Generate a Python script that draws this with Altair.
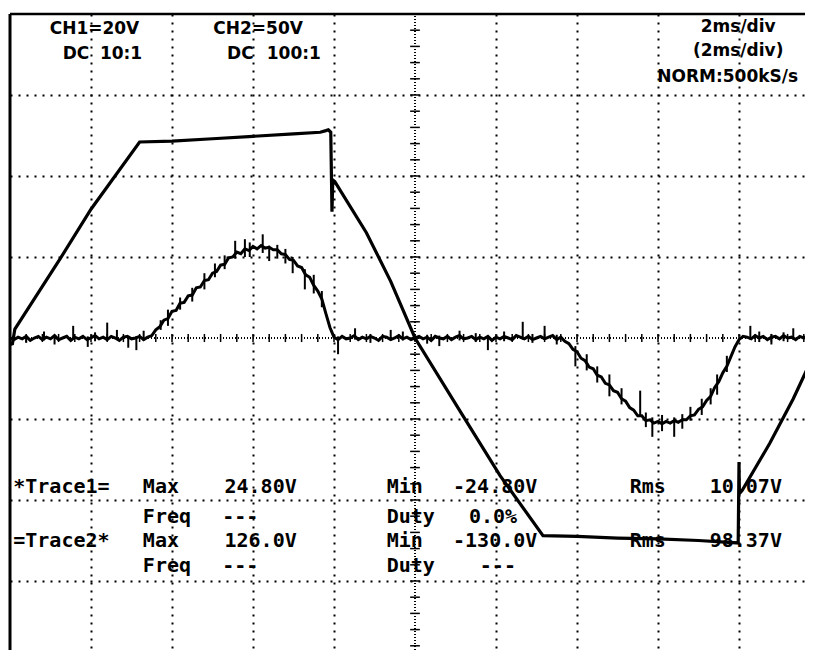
import altair as alt
import pandas as pd

# ---------------- data (screen divisions: x 0..10, y -4..4) ----------------
# Trace 2 (CH2, 50 V/div): trapezoid
T2_X = [0.00, 0.03, 0.06, 0.62, 1.00, 1.60, 2.00, 2.50, 3.00, 3.50, 3.83, 3.90, 3.93,
        3.96, 3.975, 3.985, 4.01, 4.40, 4.70, 5.00, 5.56, 6.05, 6.58, 7.00, 7.50,
        8.00, 8.50, 8.99, 9.00, 9.005, 9.04, 9.38, 9.67, 9.88, 10.00]
T2_Y = [-0.08, -0.07, 0.11, 0.98, 1.59, 2.42, 2.43, 2.46, 2.49, 2.52, 2.54, 2.56, 2.57,
        2.54, 1.56, 1.95, 1.93, 1.30, 0.70, 0.00, -0.91, -1.70, -2.44, -2.45, -2.47,
        -2.48, -2.50, -2.53, -1.53, -1.92, -1.88, -1.30, -0.75, -0.30, -0.05]

# Trace 1 (CH1, 20 V/div): noisy bipolar bump, one sample every 0.05 div
T1_Y = [
    0.00, -0.02, 0.01, -0.01, 0.02, -0.03, 0.00, 0.02, -0.02, 0.01, -0.01, 0.03, -0.02, 0.00, 0.02, -0.03, 0.01, -0.01, 0.02, -0.02,
    0.00, 0.03, -0.01, 0.01, -0.02, 0.02, 0.00, -0.03, 0.01, 0.02, -0.01, 0.00, 0.02, -0.02, 0.01, 0.03, 0.10, 0.14, 0.22, 0.24,
    0.33, 0.34, 0.43, 0.44, 0.52, 0.53, 0.62, 0.63, 0.71, 0.72, 0.80, 0.82, 0.90, 0.91, 0.99, 1.00, 1.06, 1.04, 1.10, 1.08,
    1.13, 1.10, 1.14, 1.11, 1.12, 1.09, 1.09, 1.04, 1.03, 0.97, 0.96, 0.89, 0.87, 0.78, 0.75, 0.65, 0.58, 0.48, 0.30, 0.13,
    0.01, -0.02, 0.02, -0.01, 0.00, 0.03, -0.02, 0.01, -0.01, 0.02, 0.00, -0.03, 0.02, 0.01, -0.02, 0.00, 0.03, -0.01, 0.01, -0.02,
    0.00, 0.02, -0.01, 0.01, -0.03, 0.02, 0.00, -0.01, 0.02, -0.02, 0.01, 0.03, -0.01, 0.00, 0.02, -0.02, 0.01, -0.01, 0.02, -0.03,
    0.01, -0.01, 0.02, 0.00, -0.02, 0.03, 0.01, -0.01, 0.02, -0.02, 0.00, 0.02, -0.01, 0.01, 0.03, -0.02, 0.01, -0.04, -0.07, -0.14,
    -0.17, -0.25, -0.28, -0.36, -0.38, -0.46, -0.48, -0.56, -0.58, -0.65, -0.67, -0.75, -0.78, -0.86, -0.89, -0.96, -0.96, -1.02, -1.01, -1.05,
    -1.03, -1.06, -1.03, -1.05, -1.02, -1.04, -1.01, -1.01, -0.96, -0.95, -0.88, -0.85, -0.77, -0.72, -0.61, -0.54, -0.43, -0.35, -0.23, -0.11,
    -0.02, 0.02, 0.01, -0.01, 0.03, 0.00, 0.02, -0.02, 0.01, 0.02, -0.01, 0.03, 0.00, 0.01, -0.02, 0.02, 0.00, 0.03, -0.01, 0.01,
    0.02,
]
T1_X = [round(i * 0.05, 2) for i in range(len(T1_Y))]

# Noise spikes on trace 1
SPIKE_X = [0.20, 0.42, 0.55, 0.78, 0.96, 1.05, 1.20, 1.32, 1.46, 1.56, 1.65, 1.86, 1.95, 2.10,
           2.25, 2.40, 2.53, 2.65, 2.78, 2.90, 2.96, 3.12, 3.20, 3.30, 3.40, 3.49, 3.64, 3.75,
           3.85, 4.05, 4.26, 4.45, 4.70, 4.85, 5.15, 5.30, 5.55, 5.75, 5.90, 6.10, 6.33, 6.45,
           6.60, 6.75, 6.98, 7.12, 7.25, 7.40, 7.55, 7.78, 7.85, 7.93, 8.05, 8.20, 8.30, 8.40,
           8.54, 8.65, 8.73, 8.85, 9.14, 9.25, 9.40, 9.55, 9.67]
SPIKE_LO = [-0.06, -0.03, -0.08, -0.02, -0.11, -0.04, -0.02, -0.01, -0.12, -0.15, -0.03, 0.10, 0.15, 0.35,
            0.45, 0.60, 0.75, 0.85, 0.98, 1.00, 1.00, 1.05, 0.95, 0.98, 0.92, 0.80, 0.60, 0.55,
            0.38, -0.20, -0.02, -0.06, -0.03, -0.03, -0.07, -0.10, -0.03, -0.05, -0.15, -0.04, -0.02, -0.06,
            -0.02, -0.08, -0.35, -0.40, -0.55, -0.72, -0.82, -0.95, -1.10, -1.22, -1.15, -1.22, -1.12, -1.02,
            -0.95, -0.82, -0.70, -0.42, -0.02, -0.05, -0.08, -0.04, -0.02]
SPIKE_HI = [0.04, 0.08, 0.03, 0.15, 0.02, 0.07, 0.19, 0.10, 0.01, 0.02, 0.09, 0.22, 0.35, 0.50,
            0.62, 0.80, 0.92, 1.02, 1.20, 1.22, 1.18, 1.28, 1.14, 1.15, 1.10, 1.00, 0.85, 0.78,
            0.58, 0.02, 0.12, 0.05, 0.10, 0.08, 0.04, 0.03, 0.09, 0.06, 0.02, 0.08, 0.20, 0.05,
            0.15, 0.04, -0.10, -0.20, -0.35, -0.45, -0.62, -0.65, -0.92, -0.98, -0.95, -0.98, -0.94, -0.85,
            -0.75, -0.62, -0.45, -0.22, 0.15, 0.08, 0.05, 0.07, 0.12]

# Screen texts
HEAD_LEFT = ["CH1=20V", "DC", "10:1", "CH2=50V", "DC", "100:1"]
HEAD_RIGHT = ["2ms/div", "(2ms/div)", "NORM:500kS/s"]
STAT_LABELS = ["*Trace1=", "Max", "Min", "Rms", "Freq", "---", "Duty",
               "=Trace2*", "Max", "Min", "Rms", "Freq", "---", "Duty", "---"]
STAT_VALUES = ["24.80V", "-24.80V", "10.07V", "0.0%", "126.0V", "-130.0V", "98.37V"]

# ---------------- layout (positions in divisions) ----------------
HEAD_LEFT_POS = [(0.49, 3.81), (0.65, 3.51), (1.11, 3.51), (2.51, 3.81), (2.68, 3.51), (3.17, 3.51)]
HEAD_RIGHT_POS = [(8.99, 3.84), (8.99, 3.54), (8.86, 3.22)]
R1, R2, R3, R4 = -1.84, -2.21, -2.51, -2.81
STAT_LABEL_POS = [(0.04, R1), (1.64, R1), (4.65, R1), (7.65, R1), (1.64, R2), (2.62, R2), (4.65, R2),
                  (0.04, R3), (1.64, R3), (4.65, R3), (7.65, R3), (1.64, R4), (2.62, R4), (4.65, R4), (5.80, R4)]
STAT_VALUE_POS = [(3.54, R1), (6.51, R1), (9.53, R1), (6.26, R2), (3.54, R3), (6.51, R3), (9.53, R3)]

PX_PER_DIV = 81
W, H = 795, 636
X_MAX = W / PX_PER_DIV
Y_MIN = 4 - H / PX_PER_DIV


def text_df(labels, pos):
    return pd.DataFrame({"t": labels, "x": [p[0] for p in pos], "y": [p[1] for p in pos]})


XS = alt.Scale(domain=[0, X_MAX], nice=False, zero=False)
YS = alt.Scale(domain=[Y_MIN, 4], nice=False, zero=False)
XAX = alt.Axis(values=[1, 2, 3, 4, 6, 7, 8, 9], grid=True, gridDash=[2, 6], gridColor="black",
               gridWidth=2, gridOpacity=1, labels=False, ticks=False, domain=False, title=None)
YAX = alt.Axis(values=[-3, -2, -1, 1, 2, 3], grid=True, gridDash=[2, 6], gridColor="black",
               gridWidth=2, gridOpacity=1, labels=False, ticks=False, domain=False, title=None)


def X(f="x"):
    return alt.X(f + ":Q", scale=XS, axis=XAX)


def Y(f="y"):
    return alt.Y(f + ":Q", scale=YS, axis=YAX)


# frame (left and top edges; right/bottom run off screen)
left_edge = alt.Chart(pd.DataFrame({"x": [0.0], "y": [Y_MIN], "y2": [4.0]})).mark_rule(
    color="black", strokeWidth=3).encode(x=X(), y=Y(), y2="y2:Q")
top_edge = alt.Chart(pd.DataFrame({"x": [0.0], "x2": [X_MAX], "y": [4.0]})).mark_rule(
    color="black", strokeWidth=2.5).encode(x=X(), x2="x2:Q", y=Y())

# center cross
vline = alt.Chart(pd.DataFrame({"x": [5.0], "y": [Y_MIN], "y2": [4.0]})).mark_rule(
    color="black", strokeWidth=2, strokeDash=[1, 2]).encode(x=X(), y=Y(), y2="y2:Q")
hline = alt.Chart(pd.DataFrame({"x": [0.0], "x2": [X_MAX], "y": [0.0]})).mark_rule(
    color="black", strokeWidth=2, strokeDash=[1, 2]).encode(x=X(), x2="x2:Q", y=Y())
vt = [k * 0.2 for k in range(-19, 20)]
vticks = alt.Chart(pd.DataFrame({"x": [4.94] * len(vt), "x2": [5.06] * len(vt), "y": vt})).mark_rule(
    color="black", strokeWidth=1.5).encode(x=X(), x2="x2:Q", y=Y())
ht = [k * 0.2 for k in range(1, 50)]
hticks = alt.Chart(pd.DataFrame({"x": ht, "y": [-0.05] * len(ht), "y2": [0.05] * len(ht)})).mark_rule(
    color="black", strokeWidth=1.5).encode(x=X(), y=Y(), y2="y2:Q")

# traces
t2 = alt.Chart(pd.DataFrame({"x": T2_X, "y": T2_Y, "i": range(len(T2_X))})).mark_line(
    color="black", strokeWidth=3.2, clip=True).encode(x=X(), y=Y(), order="i:Q")
t1 = alt.Chart(pd.DataFrame({"x": T1_X, "y": T1_Y, "i": range(len(T1_X))})).mark_line(
    color="black", strokeWidth=3, clip=True).encode(x=X(), y=Y(), order="i:Q")
spikes = alt.Chart(pd.DataFrame({"x": SPIKE_X, "y": SPIKE_LO, "y2": SPIKE_HI})).mark_rule(
    color="black", strokeWidth=2, clip=True).encode(x=X(), y=Y(), y2="y2:Q")

# texts
head_l = alt.Chart(text_df(HEAD_LEFT, HEAD_LEFT_POS)).mark_text(
    font="DejaVu Sans", fontWeight="bold", fontSize=17, align="left", baseline="middle", color="black"
).encode(x=X(), y=Y(), text="t:N")
head_r = alt.Chart(text_df(HEAD_RIGHT, HEAD_RIGHT_POS)).mark_text(
    font="DejaVu Sans", fontWeight="bold", fontSize=17, align="center", baseline="middle", color="black"
).encode(x=X(), y=Y(), text="t:N")
stat_l = alt.Chart(text_df(STAT_LABELS, STAT_LABEL_POS)).mark_text(
    font="DejaVu Sans Mono", fontWeight="bold", fontSize=20, align="left", baseline="middle", color="black"
).encode(x=X(), y=Y(), text="t:N")
stat_v = alt.Chart(text_df(STAT_VALUES, STAT_VALUE_POS)).mark_text(
    font="DejaVu Sans Mono", fontWeight="bold", fontSize=20, align="right", baseline="middle", color="black"
).encode(x=X(), y=Y(), text="t:N")

chart = alt.layer(
    left_edge, top_edge, vline, hline, vticks, hticks, t2, t1, spikes,
    head_l, head_r, stat_l, stat_v
).properties(
    width=W, height=H, autosize=alt.AutoSizeParams(type="none"),
    padding={"left": 2, "top": 6, "right": 0, "bottom": 0},
    background="white",
).configure_view(stroke=None)

chart.save("out.html", embed_options={"renderer": "svg", "actions": False})
